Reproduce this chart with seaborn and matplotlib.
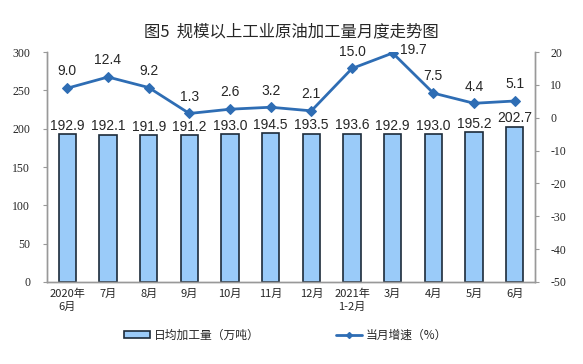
import numpy as np
import pandas as pd
import matplotlib
matplotlib.use('Agg')
import matplotlib.pyplot as plt
from matplotlib.ticker import FixedLocator
from matplotlib.patches import Patch
from matplotlib.lines import Line2D
import seaborn as sns

# data
months = ['2020年\n6月', '7月', '8月', '9月', '10月', '11月', '12月',
          '2021年\n1-2月', '3月', '4月', '5月', '6月']
daily_output = [192.9, 192.1, 191.9, 191.2, 193.0, 194.5, 193.5,
                193.6, 192.9, 193.0, 195.2, 202.7]
growth = [9.0, 12.4, 9.2, 1.3, 2.6, 3.2, 2.1, 15.0, 19.7, 7.5, 4.4, 5.1]

df = pd.DataFrame({'月份': months, '日均加工量': daily_output, '增速': growth})
df['pos'] = np.arange(len(df))

sns.set_style('white')
plt.rcParams['font.family'] = ['Noto Sans CJK SC', 'DejaVu Sans']
plt.rcParams['axes.unicode_minus'] = False

fig = plt.figure(figsize=(5.83, 3.64), dpi=100)
ax = fig.add_axes([0.0806, 0.2253, 0.8371, 0.6317])
ax2 = ax.twinx()

# bars
sns.barplot(data=df, x='pos', y='日均加工量', ax=ax, width=0.42,
            color='#9ACBF9', edgecolor='#1c2b3a', linewidth=1.2, saturation=1)
ax.bar_label(ax.containers[0], labels=[f'{v:.1f}' for v in daily_output],
             padding=1, fontsize=10, family='Liberation Sans')

# growth line
line_col = '#2E6DB4'
sns.lineplot(data=df, x='pos', y='增速', ax=ax2, color=line_col, linewidth=2,
             marker='D', markersize=5, markeredgecolor=line_col)
for i, v in enumerate(growth):
    off = (15, -3) if i == 8 else (0, 7)
    ax2.annotate(f'{v:.1f}', (i, v), xytext=off, textcoords='offset points',
                 ha='center', va='bottom', fontsize=10, family='Liberation Sans')

ax.set_ylim(0, 300)
ax2.set_ylim(-50, 20)
ax.set_xlim(-0.5, 11.5)
ax.set_yticks(np.arange(0, 301, 50))
ax2.set_yticks(np.arange(-50, 21, 10))

ax.set_xticks(df['pos'])
ax.set_xticklabels(months, fontsize=8, linespacing=1.3)
ax.xaxis.set_minor_locator(FixedLocator(np.arange(-0.5, 12, 1)))
ax.tick_params(axis='x', which='major', length=0, pad=5)
ax.tick_params(axis='x', which='minor', direction='in', length=3, color='#999999')

ax.tick_params(axis='y', direction='out', length=3, color='#999999', pad=9)
ax2.tick_params(axis='y', direction='out', length=3, color='#999999', pad=8)
for lab in ax.get_yticklabels() + ax2.get_yticklabels():
    lab.set_family('Liberation Serif')
    lab.set_fontsize(8.5)

ax.set_xlabel('')
ax.set_ylabel('')
ax2.set_ylabel('')
ax2.set_xlabel('')

for a in (ax, ax2):
    a.spines['top'].set_visible(False)
    for s in ('left', 'right', 'bottom'):
        a.spines[s].set_color('#999999')
        a.spines[s].set_linewidth(1)

fig.suptitle('图5  规模以上工业原油加工量月度走势图', fontsize=11.8,
             y=0.913, va='center')

# legend
handles = [Patch(facecolor='#9ACBF9', edgecolor='#1c2b3a', linewidth=1.2),
           Line2D([0], [0], color=line_col, linewidth=2, marker='D', markersize=3)]
fig.legend(handles, ['日均加工量（万吨）', '当月增速（%）'], loc='center',
           bbox_to_anchor=(0.49, 0.08), ncol=2, frameon=False, fontsize=8.5,
           handlelength=2.2, handleheight=0.5, handletextpad=0.3, columnspacing=6.5)

fig.savefig('out.png', dpi=100)
